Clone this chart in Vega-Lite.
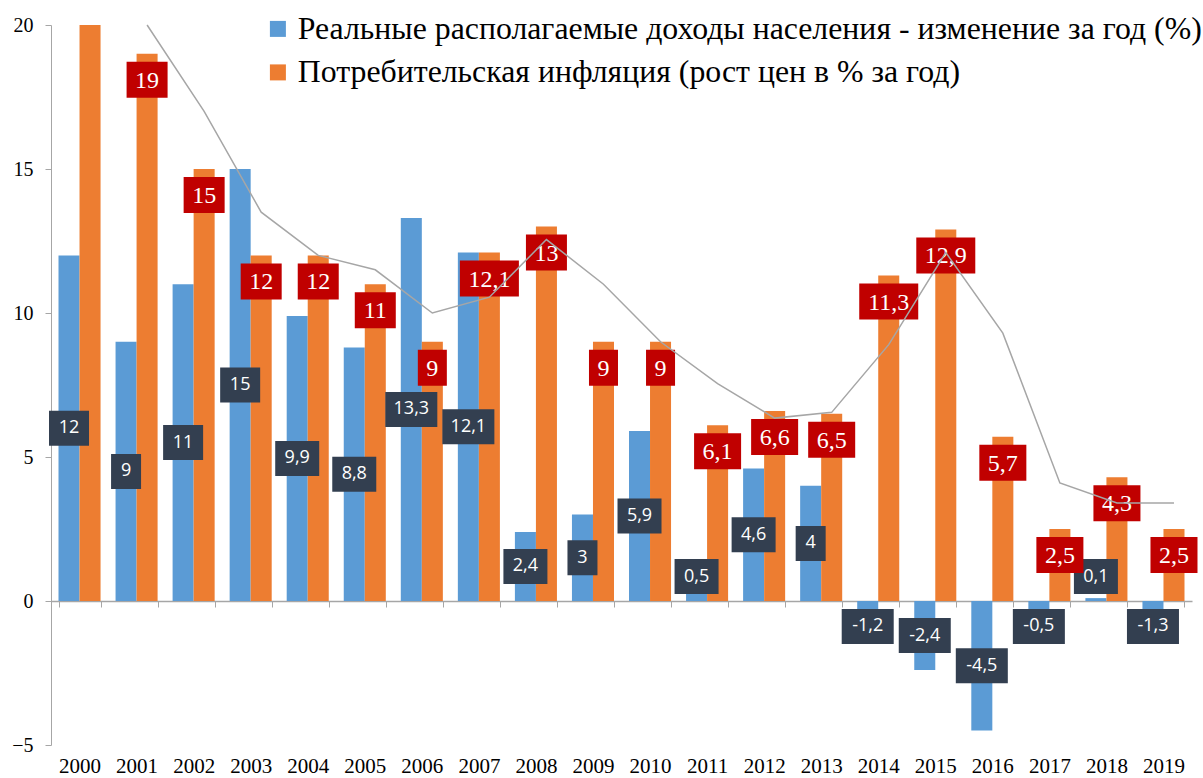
{
  "$schema": "https://vega.github.io/schema/vega-lite/v6.json",
  "width": 1141,
  "height": 720,
  "autosize": {"type": "none"},
  "padding": {"left": 51, "top": 25, "right": 11, "bottom": 33},
  "background": "white",
  "config": {"view": {"stroke": null}, "axis": {"grid": false}},
  "datasets": {
    "bars": [
      {"year": "2000", "key": "inc", "value": 12, "label": "12"},
      {"year": "2001", "key": "inc", "value": 9, "label": "9"},
      {"year": "2002", "key": "inc", "value": 11, "label": "11"},
      {"year": "2003", "key": "inc", "value": 15, "label": "15"},
      {"year": "2004", "key": "inc", "value": 9.9, "label": "9,9"},
      {"year": "2005", "key": "inc", "value": 8.8, "label": "8,8"},
      {"year": "2006", "key": "inc", "value": 13.3, "label": "13,3"},
      {"year": "2007", "key": "inc", "value": 12.1, "label": "12,1"},
      {"year": "2008", "key": "inc", "value": 2.4, "label": "2,4"},
      {"year": "2009", "key": "inc", "value": 3, "label": "3"},
      {"year": "2010", "key": "inc", "value": 5.9, "label": "5,9"},
      {"year": "2011", "key": "inc", "value": 0.5, "label": "0,5"},
      {"year": "2012", "key": "inc", "value": 4.6, "label": "4,6"},
      {"year": "2013", "key": "inc", "value": 4, "label": "4"},
      {"year": "2014", "key": "inc", "value": -1.2, "label": "-1,2"},
      {"year": "2015", "key": "inc", "value": -2.4, "label": "-2,4"},
      {"year": "2016", "key": "inc", "value": -4.5, "label": "-4,5"},
      {"year": "2017", "key": "inc", "value": -0.5, "label": "-0,5"},
      {"year": "2018", "key": "inc", "value": 0.1, "label": "0,1"},
      {"year": "2019", "key": "inc", "value": -1.3, "label": "-1,3"},
      {"year": "2000", "key": "cpi", "value": 20.2, "label": "20,2"},
      {"year": "2001", "key": "cpi", "value": 19, "label": "19"},
      {"year": "2002", "key": "cpi", "value": 15, "label": "15"},
      {"year": "2003", "key": "cpi", "value": 12, "label": "12"},
      {"year": "2004", "key": "cpi", "value": 12, "label": "12"},
      {"year": "2005", "key": "cpi", "value": 11, "label": "11"},
      {"year": "2006", "key": "cpi", "value": 9, "label": "9"},
      {"year": "2007", "key": "cpi", "value": 12.1, "label": "12,1"},
      {"year": "2008", "key": "cpi", "value": 13, "label": "13"},
      {"year": "2009", "key": "cpi", "value": 9, "label": "9"},
      {"year": "2010", "key": "cpi", "value": 9, "label": "9"},
      {"year": "2011", "key": "cpi", "value": 6.1, "label": "6,1"},
      {"year": "2012", "key": "cpi", "value": 6.6, "label": "6,6"},
      {"year": "2013", "key": "cpi", "value": 6.5, "label": "6,5"},
      {"year": "2014", "key": "cpi", "value": 11.3, "label": "11,3"},
      {"year": "2015", "key": "cpi", "value": 12.9, "label": "12,9"},
      {"year": "2016", "key": "cpi", "value": 5.7, "label": "5,7"},
      {"year": "2017", "key": "cpi", "value": 2.5, "label": "2,5"},
      {"year": "2018", "key": "cpi", "value": 4.3, "label": "4,3"},
      {"year": "2019", "key": "cpi", "value": 2.5, "label": "2,5"}
    ],
    "trend": [
      {"year": "2001", "key": "cpi", "ma": 20},
      {"year": "2002", "key": "cpi", "ma": 17},
      {"year": "2003", "key": "cpi", "ma": 13.5},
      {"year": "2004", "key": "cpi", "ma": 12},
      {"year": "2005", "key": "cpi", "ma": 11.5},
      {"year": "2006", "key": "cpi", "ma": 10},
      {"year": "2007", "key": "cpi", "ma": 10.55},
      {"year": "2008", "key": "cpi", "ma": 12.55},
      {"year": "2009", "key": "cpi", "ma": 11},
      {"year": "2010", "key": "cpi", "ma": 9},
      {"year": "2011", "key": "cpi", "ma": 7.55},
      {"year": "2012", "key": "cpi", "ma": 6.35},
      {"year": "2013", "key": "cpi", "ma": 6.55},
      {"year": "2014", "key": "cpi", "ma": 8.9},
      {"year": "2015", "key": "cpi", "ma": 12.1},
      {"year": "2016", "key": "cpi", "ma": 9.3},
      {"year": "2017", "key": "cpi", "ma": 4.1},
      {"year": "2018", "key": "cpi", "ma": 3.4},
      {"year": "2019", "key": "cpi", "ma": 3.4}
    ]
  },
  "encoding": {
    "x": {
      "field": "year",
      "type": "ordinal",
      "scale": {"paddingInner": 0.263, "paddingOuter": 0.1315},
      "axis": {
        "title": null,
        "offset": -144,
        "domainColor": "#a6a6a6",
        "domainWidth": 1.3,
        "tickColor": "#a6a6a6",
        "tickSize": 6,
        "tickBand": "extent",
        "labelPadding": 148,
        "labelAngle": 0,
        "labelFont": "Times New Roman, Liberation Serif, DejaVu Serif, serif",
        "labelFontSize": 21,
        "labelColor": "black"
      }
    },
    "xOffset": {"field": "key", "type": "nominal", "scale": {"domain": ["inc", "cpi"]}}
  },
  "layer": [
    {
      "data": {"name": "bars"},
      "mark": {"type": "bar", "clip": true},
      "encoding": {
        "y": {
          "field": "value",
          "type": "quantitative",
          "scale": {"domain": [-5, 20], "nice": false},
          "axis": {
            "title": null,
            "values": [-5, 0, 5, 10, 15, 20],
            "domainColor": "#a6a6a6",
            "tickColor": "#a6a6a6",
            "tickSize": 6,
            "labelPadding": 12,
            "labelFont": "Times New Roman, Liberation Serif, DejaVu Serif, serif",
            "labelFontSize": 20,
            "labelColor": "black",
            "grid": false
          }
        },
        "color": {
          "field": "key",
          "type": "nominal",
          "scale": {"domain": ["inc", "cpi"], "range": ["#5B9BD5", "#ED7D31"]},
          "legend": {
            "title": null,
            "orient": "none",
            "legendX": 211,
            "legendY": -12,
            "symbolType": "square",
            "symbolSize": 256,
            "symbolStrokeWidth": 0,
            "labelFont": "Times New Roman, Liberation Serif, DejaVu Serif, serif",
            "labelFontSize": 31.8,
            "labelColor": "black",
            "labelLimit": 1200,
            "labelOffset": 4,
            "rowPadding": 10.5,
            "padding": 0,
            "labelExpr": "datum.label == 'inc' ? 'Реальные располагаемые доходы населения - изменение за год (%)' : 'Потребительская инфляция (рост цен в % за год)'"
          }
        }
      }
    },
    {
      "data": {"name": "bars"},
      "transform": [
        {"filter": "datum.key == 'inc'"},
        {"calculate": "length(datum.label)", "as": "len"},
        {"calculate": "datum.value >= 0 ? max(datum.value / 2, 0.85) : min(datum.value / 2, -0.885)", "as": "pos"}
      ],
      "mark": {"type": "point", "filled": true, "opacity": 1, "size": 1225, "fill": "#333F50", "strokeWidth": 0},
      "encoding": {
        "y": {"field": "pos", "type": "quantitative"},
        "shape": {
          "field": "len",
          "type": "ordinal",
          "scale": {
            "domain": [1, 2, 3, 4],
            "range": [
              "M-0.857,-1H0.857V1H-0.857Z",
              "M-1.143,-1H1.143V1H-1.143Z",
              "M-1.257,-1H1.257V1H-1.257Z",
              "M-1.486,-1H1.486V1H-1.486Z"
            ]
          },
          "legend": null
        }
      }
    },
    {
      "data": {"name": "bars"},
      "transform": [
        {"filter": "datum.key == 'inc'"},
        {"calculate": "datum.value >= 0 ? max(datum.value / 2, 0.85) : min(datum.value / 2, -0.885)", "as": "pos"}
      ],
      "mark": {"type": "text", "font": "Open Sans", "fontSize": 18, "color": "white", "align": "center", "baseline": "middle"},
      "encoding": {
        "y": {"field": "pos", "type": "quantitative"},
        "text": {"field": "label"}
      }
    },
    {
      "data": {"name": "bars"},
      "transform": [
        {"filter": "datum.key == 'cpi' && datum.value <= 20"},
        {"calculate": "length(datum.label)", "as": "len"}
      ],
      "mark": {"type": "point", "filled": true, "opacity": 1, "size": 1296, "fill": "#C00000", "strokeWidth": 0, "yOffset": 26},
      "encoding": {
        "y": {"field": "value", "type": "quantitative"},
        "shape": {
          "field": "len",
          "type": "ordinal",
          "scale": {
            "domain": [1, 2, 3, 4],
            "range": [
              "M-0.806,-1H0.806V1H-0.806Z",
              "M-1.139,-1H1.139V1H-1.139Z",
              "M-1.306,-1H1.306V1H-1.306Z",
              "M-1.639,-1H1.639V1H-1.639Z"
            ]
          },
          "legend": null
        }
      }
    },
    {
      "data": {"name": "bars"},
      "transform": [
        {"filter": "datum.key == 'cpi' && datum.value <= 20"}
      ],
      "mark": {"type": "text", "font": "Times New Roman, Liberation Serif, DejaVu Serif, serif", "fontSize": 24, "color": "white", "align": "center", "baseline": "middle", "yOffset": 27},
      "encoding": {
        "y": {"field": "value", "type": "quantitative"},
        "text": {"field": "label"}
      }
    },
    {
      "data": {"name": "trend"},
      "mark": {"type": "line", "color": "#A6A6A6", "strokeWidth": 1.5},
      "encoding": {
        "y": {"field": "ma", "type": "quantitative"}
      }
    }
  ],
  "resolve": {"scale": {"shape": "independent"}}
}
